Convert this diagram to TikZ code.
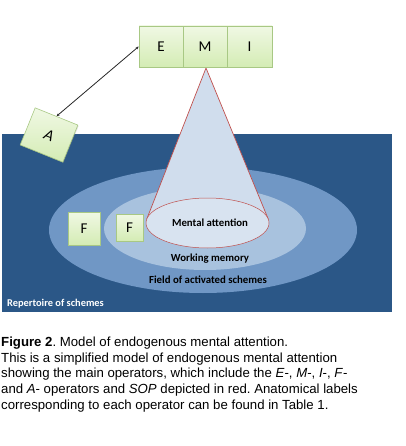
\documentclass[tikz,border=0pt]{standalone}
\usepackage{fontspec}
\setmainfont{Liberation Sans}
\newfontfamily\calib{Carlito}
\usetikzlibrary{arrows.meta,shadows}
\definecolor{bgblue}{RGB}{43,87,135}
\definecolor{fieldblue}{RGB}{112,151,197}
\definecolor{wmblue}{RGB}{168,194,222}
\definecolor{mablue}{RGB}{216,227,240}
\definecolor{conefill}{RGB}{208,221,237}
\definecolor{redline}{RGB}{192,80,77}
\definecolor{grtop}{RGB}{240,248,228}
\definecolor{grbot}{RGB}{212,236,180}
\definecolor{grline}{RGB}{168,200,132}
\tikzset{
  opbox/.style={draw=grline, line width=0.6pt, top color=grtop, bottom color=grbot,
    font=\calib\fontsize{15}{15}\selectfont, inner sep=0pt, drop shadow={shadow xshift=0.8pt, shadow yshift=-0.8pt, opacity=0.25}},
  lbl/.style={font=\calib\bfseries\fontsize{10.8}{10.8}\selectfont, text=black, inner sep=0pt},
}
\begin{document}
\frenchspacing
\begin{tikzpicture}[x=1pt,y=-1pt]
\useasboundingbox (0,0) rectangle (405,446);
% background repertoire
\fill[bgblue] (2,134) rectangle (392,312);
\node[anchor=base west, font=\calib\bfseries\fontsize{10.4}{10.4}\selectfont, text=white, inner sep=0pt] (rep) at (7,306) {Repertoire of schemes};
% field ellipse
\fill[fieldblue] (203,230) ellipse [x radius=154, y radius=63];
\fill[wmblue] (205,228.5) ellipse [x radius=101, y radius=41.5];
% cone
\fill[conefill] (206,68) -- (146.8,219) -- (268.2,219) -- cycle;
\draw[redline, line width=0.7pt] (146.8,219) -- (206,68) -- (268.2,219);
\draw[redline, line width=0.5pt, fill=mablue] (207.5,223) ellipse [x radius=61.5, y radius=25];
\node[lbl, anchor=base] (ma) at (210,226.5) {Mental attention};
\node[lbl, anchor=base] (wm) at (210,261.5) {Working memory};
\node[lbl, anchor=base] (fa) at (208,283.5) {Field of activated schemes};
% F boxes
\node[opbox, minimum width=32pt, minimum height=33pt] (F1) at (84,228.5) {F};
\node[opbox, minimum width=27pt, minimum height=27pt] (F2) at (129.5,227.5) {F};
% EMI boxes
\node[opbox, minimum width=44pt, minimum height=41pt] (E) at (161,46.5) {E};
\node[opbox, minimum width=44pt, minimum height=41pt] (M) at (205,46.5) {M};
\node[opbox, minimum width=45pt, minimum height=41pt] (I) at (249.5,46.5) {I};
% A box
\node[opbox, minimum width=46pt, minimum height=40pt, rotate=-22, font=\calib\itshape\fontsize{16}{16}\selectfont] (A) at (49,135) {A};
\draw[{Stealth[length=3pt,width=2.5pt]}-{Stealth[length=3pt,width=2.5pt]}, line width=0.8pt, black!85] (E.west) -- (A.north);
% caption
\node[anchor=north west, align=left, inner sep=0pt, font=\fontsize{13.2}{15.6}\selectfont] (cap) at (1,337) {%
{\bfseries Figure 2}. Model of endogenous mental attention.\\
This is a simplified model of endogenous mental attention\\
showing the main operators, which include the \textit{E}-, \textit{M}-, \textit{I}-, \textit{F}-\\
and \textit{A}- operators and \textit{SOP} depicted in red. Anatomical labels\\
corresponding to each operator can be found in Table 1.};
\end{tikzpicture}
\end{document}
